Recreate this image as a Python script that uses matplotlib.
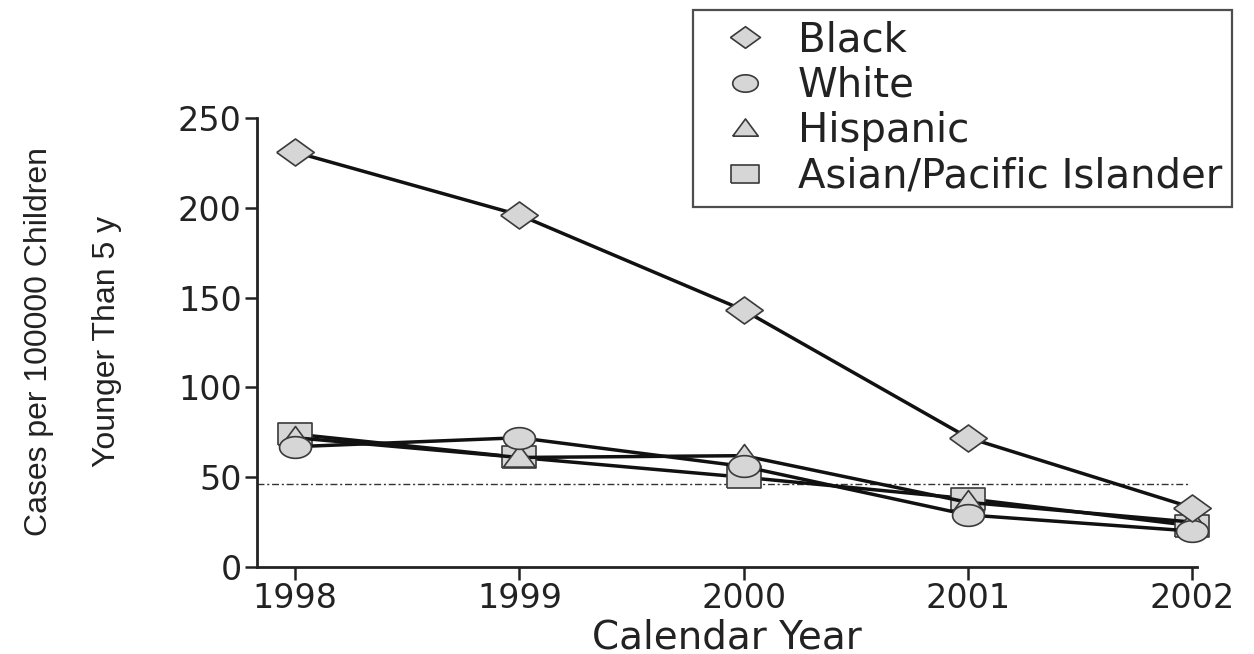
import numpy as np
import matplotlib
matplotlib.use("Agg")
import matplotlib.pyplot as plt
from matplotlib.lines import Line2D

# Cases per 100000 children younger than 5 y, by calendar year
years = [1998, 1999, 2000, 2001, 2002]
black = [231, 196, 143, 72, 33]
white = [67, 72, 56, 29, 20]
hispanic = [72, 61, 62, 36, 25]
asian_pi = [74, 61, 50, 38, 23]
target = 46  # dotted reference line

series_names = ["Black", "White", "Hispanic", "Asian/Pacific Islander"]

# markers slightly wider than tall (the original is stretched sideways)
t = np.linspace(0, 2 * np.pi, 40)
m_diamond = [(-1, 0), (0, 0.72), (1, 0), (0, -0.72), (-1, 0)]
m_circle = list(zip(np.cos(t), 0.68 * np.sin(t)))
m_triangle = [(-1, -0.6), (0, 0.75), (1, -0.6), (-1, -0.6)]
m_square = [(-1, -0.66), (-1, 0.66), (1, 0.66), (1, -0.66), (-1, -0.66)]

fill = "#d6d6d6"
edge = "#3a3a3a"
line_col = "#111111"

plt.rcParams["font.family"] = ["DejaVu Sans"]

fig = plt.figure(figsize=(12.54, 6.54), dpi=100)
ax = fig.add_axes([0.2049, 0.1330, 0.7496, 0.6865])

ax.hlines(target, 1997.83, 2001.98, colors="#333333", linewidth=1.0,
          linestyles=(0, (5, 2, 1.5, 2)), zorder=1)

styles = [
    (black, m_diamond, 27),
    (white, m_circle, 23),
    (hispanic, m_triangle, 23),
    (asian_pi, m_square, 25),
]
for i in [3, 2, 1, 0]:
    vals, mk, ms = styles[i]
    ax.plot(years, vals, color=line_col, linewidth=2.5, marker=mk,
            markersize=ms, markerfacecolor=fill, markeredgecolor=edge,
            markeredgewidth=1.2, zorder=4 - i * 0.1, clip_on=False)

ax.set_xlim(1997.83, 2002.02)
ax.set_ylim(0, 250)
ax.set_xticks(years)
ax.set_yticks([0, 50, 100, 150, 200, 250])
ax.spines["top"].set_visible(False)
ax.spines["right"].set_visible(False)
for s in ["left", "bottom"]:
    ax.spines[s].set_linewidth(2.0)
    ax.spines[s].set_color("#222222")
ax.tick_params(direction="out", length=9, width=1.8, colors="#222222",
               labelsize=24, pad=2)
ax.set_xlabel("Calendar Year", fontsize=28, color="#222222", labelpad=2)

# two-line y label
fig.text(0.031, 0.478, "Cases per 100000 Children", rotation=90,
         ha="center", va="center", fontsize=23, color="#222222",
         family=["Liberation Sans", "DejaVu Sans"])
fig.text(0.085, 0.478, "Younger Than 5 y", rotation=90,
         ha="center", va="center", fontsize=23, color="#222222",
         family=["Liberation Sans", "DejaVu Sans"])

handles = []
for (vals, mk, ms), name in zip(styles, series_names):
    handles.append(Line2D([], [], linestyle="none", marker=mk, markersize=ms * 0.8,
                          markerfacecolor=fill, markeredgecolor=edge,
                          markeredgewidth=1.2, label=name))
leg = fig.legend(handles=handles, loc="upper right",
                 bbox_to_anchor=(0.9825, 0.9847), borderaxespad=0,
                 fontsize=29, frameon=True, fancybox=False, labelspacing=0.14,
                 handlelength=2.1, handletextpad=0.25, borderpad=0.25)
leg.get_frame().set_edgecolor("#222222")
leg.get_frame().set_linewidth(1.6)
for txt in leg.get_texts():
    txt.set_color("#222222")

fig.savefig("out.png", dpi=100)
